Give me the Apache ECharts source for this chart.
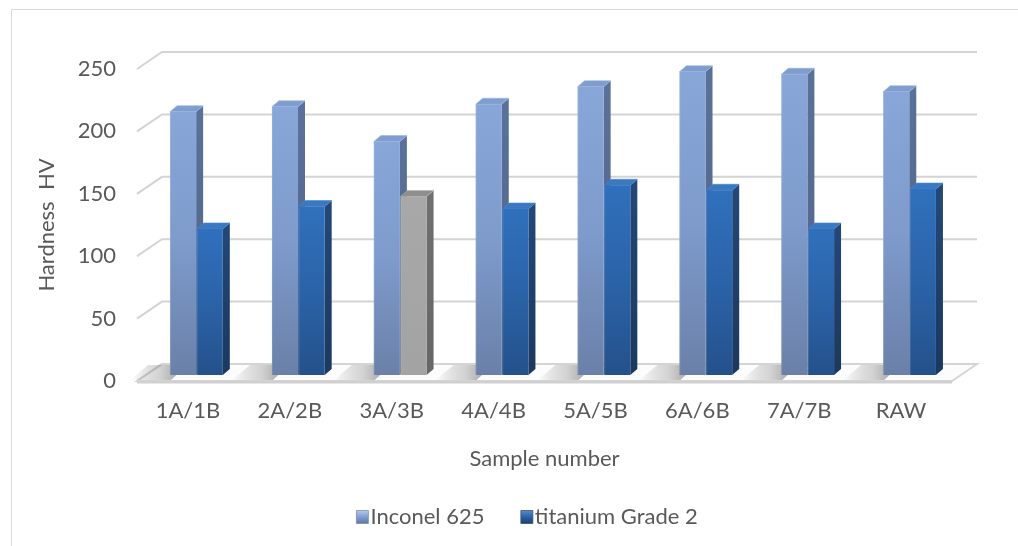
<!DOCTYPE html>
<html>
<head>
<meta charset="utf-8">
<title>Hardness HV by sample</title>
<script src="https://cdn.jsdelivr.net/npm/echarts@6/dist/echarts.min.js"></script>
<style>
  html, body { margin: 0; padding: 0; background: #ffffff; }
  #chart { width: 1018px; height: 546px; }
</style>
</head>
<body>
<div id="chart"></div>
<script>
// ---- data ----
const categories = ['1A/1B', '2A/2B', '3A/3B', '4A/4B', '5A/5B', '6A/6B', '7A/7B', 'RAW'];
const inconel625 = [211, 215, 187, 217, 231, 243, 241, 227];
const titaniumGrade2 = [117, 135, 143, 133, 152, 148, 117, 149];
const yTicks = [0, 50, 100, 150, 200, 250];
const seriesNames = ['Inconel 625', 'titanium Grade 2'];
const greyIndex = 2; // titanium bar of 3A/3B is drawn in grey

// ---- 3D look (pixels) ----
const WALL_DX = 25, WALL_DY = 17;     // depth of the back wall
const BAR_DY = 6;                     // bars sit slightly behind the front edge
const PAIR_SHIFT = 8.5;               // pair centre offset from the category centre
const BAR_FRAC = 0.256;               // bar width as share of the category band
const SIDE_DX = 7, SIDE_DY = 6;       // visible depth of each bar

const FONT = 'Lato, "Open Sans", sans-serif';
const TEXT = '#595959';
const FS = 22;

function lin(stops, horizontal) {
  return {
    type: 'linear', x: 0, y: 0, x2: horizontal ? 1 : 0, y2: horizontal ? 0 : 1,
    colorStops: stops.map((c, i) => ({ offset: i / (stops.length - 1), color: c }))
  };
}

const palettes = {
  inconel: {
    front: lin(['#88a6d8', '#7e9bcc', '#6a80a8']),
    side: lin(['#5a7199', '#4e6387']),
    top: '#7f9dcf', edge: '#9db7e2'
  },
  titanium: {
    front: lin(['#3070bc', '#2b63a8', '#24518b']),
    side: lin(['#234878', '#1b385f']),
    top: '#3a78c2', edge: '#4a86cc'
  },
  grey: {
    front: lin(['#a8a8a8', '#a3a3a3']),
    side: lin(['#707070', '#666666']),
    top: '#8e8e8e', edge: '#b4b4b4'
  }
};

// back wall gridlines, floor and its front edge
function renderWall(params, api) {
  const v = api.value(1);
  const band = api.size([1, 0])[0];
  const c0 = api.coord([0, v]);
  const xl = c0[0] - band / 2;
  const xr = c0[0] + band * (categories.length - 0.5);
  const y = c0[1];
  const children = [];
  if (v === 0) {
    children.push({
      type: 'polygon',
      shape: { points: [[xl, y], [xr, y], [xr + WALL_DX, y - WALL_DY], [xl + WALL_DX, y - WALL_DY]] },
      style: { fill: '#fcfcfc', stroke: '#d6d6d6', lineWidth: 2 }
    });
    children.push({
      type: 'line',
      shape: { x1: xl, y1: y + 1, x2: xr, y2: y + 1 },
      style: { stroke: '#d0d0d0', lineWidth: 3 }
    });
  }
  children.push({
    type: 'polyline',
    shape: { points: [[xl, y], [xl + WALL_DX, y - WALL_DY], [xr + WALL_DX, y - WALL_DY]] },
    style: { fill: null, stroke: '#d4d4d4', lineWidth: 2 }
  });
  return { type: 'group', children };
}

function makeBarRenderer(seriesIdx) {
  return function (params, api) {
    const cat = api.value(0);
    const val = api.value(1);
    const band = api.size([1, 0])[0];
    const base = api.coord([cat, 0]);
    const head = api.coord([cat, val]);
    const w = band * BAR_FRAC;
    const mid = base[0] + PAIR_SHIFT;
    const L = seriesIdx === 0 ? mid - w - 0.3 : mid + 0.3;
    const R = L + w;
    const B = base[1] - BAR_DY;
    const T = head[1] - BAR_DY;
    let pal = seriesIdx === 0 ? palettes.inconel : palettes.titanium;
    if (seriesIdx === 1 && params.dataIndex === greyIndex) pal = palettes.grey;

    const children = [];
    if (seriesIdx === 0) {
      // soft slanted floor shadow on the left of each pair
      children.push({
        type: 'polygon',
        shape: { points: [[L - 40, B + 5], [L + 1, B + 5], [L + SIDE_DX + 10, B - 10], [L - 22, B - 10]] },
        style: { fill: lin(['rgba(0,0,0,0)', 'rgba(70,70,70,0.22)', 'rgba(40,40,40,0.5)'], true) },
        z2: 0
      });
    }
    children.push({
      type: 'polygon',
      shape: { points: [[R, T], [R + SIDE_DX, T - SIDE_DY], [R + SIDE_DX, B - SIDE_DY], [R, B]] },
      style: { fill: pal.side },
      z2: 1
    });
    children.push({
      type: 'polygon',
      shape: { points: [[L, T], [R, T], [R + SIDE_DX, T - SIDE_DY], [L + SIDE_DX, T - SIDE_DY]] },
      style: { fill: pal.top, stroke: pal.edge, lineWidth: 0.6 },
      z2: 2
    });
    children.push({
      type: 'rect',
      shape: { x: L, y: T, width: w, height: B - T },
      style: { fill: pal.front },
      z2: 3
    });
    children.push({
      type: 'line',
      shape: { x1: L + 0.5, y1: T + 1, x2: L + 0.5, y2: B },
      style: { stroke: 'rgba(255,255,255,0.12)', lineWidth: 1 },
      z2: 4
    });
    return { type: 'group', children };
  };
}

const chart = echarts.init(document.getElementById('chart'), null, { renderer: 'canvas' });

chart.setOption({
  animation: false,
  backgroundColor: '#ffffff',
  graphic: [{
    type: 'rect',
    shape: { x: 11.5, y: 9.5, width: 1200, height: 700 },
    style: { fill: null, stroke: '#d9d9d9', lineWidth: 1 },
    silent: true
  }],
  grid: { left: 137, right: 66, top: 69, bottom: 165 },
  legend: {
    left: 351,
    top: 501,
    itemWidth: 12,
    itemHeight: 13,
    itemGap: 36,
    selectedMode: false,
    textStyle: { fontFamily: FONT, fontSize: FS, color: TEXT, padding: [0, 0, 0, -3] },
    data: [
      { name: seriesNames[0], icon: 'rect', itemStyle: { color: lin(['#b7cdf0', '#7f9dcf', '#5d769f']), borderColor: '#7f8ea8', borderWidth: 0.8 } },
      { name: seriesNames[1], icon: 'rect', itemStyle: { color: lin(['#5a8fd0', '#2b62a6', '#1b3d6b']), borderColor: '#3c5170', borderWidth: 0.8 } }
    ]
  },
  xAxis: {
    type: 'category',
    data: categories,
    name: 'Sample number',
    nameLocation: 'middle',
    nameGap: 67,
    nameTextStyle: { fontFamily: FONT, fontSize: FS, color: TEXT },
    axisLine: { show: false },
    axisTick: { show: false },
    axisLabel: { fontFamily: FONT, fontSize: FS, color: TEXT, margin: 19 },
    splitLine: { show: false }
  },
  yAxis: {
    type: 'value',
    min: 0,
    max: 250,
    interval: 50,
    name: 'Hardness  HV',
    nameLocation: 'middle',
    nameGap: 79,
    nameRotate: 90,
    nameTextStyle: { fontFamily: FONT, fontSize: FS, color: TEXT },
    axisLine: { show: false },
    axisTick: { show: false },
    axisLabel: { fontFamily: FONT, fontSize: FS, color: TEXT, margin: 21 },
    splitLine: { show: false }
  },
  series: [
    {
      type: 'custom',
      name: 'wall',
      silent: true,
      z: 1,
      renderItem: renderWall,
      data: yTicks.map(v => [0, v])
    },
    {
      type: 'custom',
      name: seriesNames[0],
      silent: true,
      z: 2,
      itemStyle: { color: '#7f9dcf' },
      renderItem: makeBarRenderer(0),
      data: inconel625.map((v, i) => [i, v])
    },
    {
      type: 'custom',
      name: seriesNames[1],
      silent: true,
      z: 3,
      itemStyle: { color: '#2b62a6' },
      renderItem: makeBarRenderer(1),
      data: titaniumGrade2.map((v, i) => [i, v])
    }
  ]
});
</script>
</body>
</html>
